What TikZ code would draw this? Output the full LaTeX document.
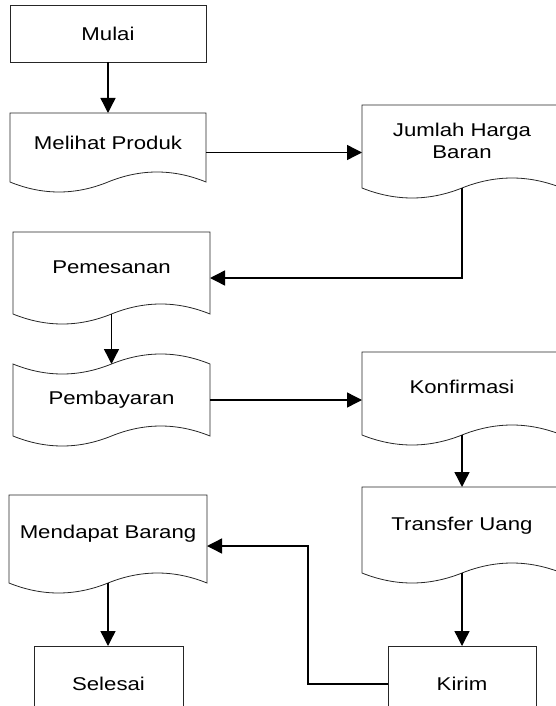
\documentclass[tikz,border=0pt]{standalone}
\usepackage{fontspec}
\setmainfont{Liberation Sans}[FakeStretch=1.2]
\usetikzlibrary{arrows.meta,calc}

\newcommand\docpath[1]{%
  \draw[outline] (#1.north west) -- (#1.north east) -- ($(#1.south east)+(0,-10)$)
    .. controls ($(#1.south east)!0.3333!(#1.south)+(0,-23.33)$) and ($(#1.south)!0.3333!(#1.south east)+(0,-23.33)$) .. ($(#1.south)+(0,-10)$)
    .. controls ($(#1.south)!0.3333!(#1.south west)+(0,3.33)$) and ($(#1.south west)!0.3333!(#1.south)+(0,3.33)$) .. ($(#1.south west)+(0,-10)$)
    -- cycle;}
\newcommand\tapepath[1]{%
  \draw[outline] ($(#1.north west)+(0,10)$)
    .. controls ($(#1.north west)!0.3333!(#1.north)+(0,23.33)$) and ($(#1.north)!0.3333!(#1.north west)+(0,23.33)$) .. ($(#1.north)+(0,10)$)
    .. controls ($(#1.north)!0.3333!(#1.north east)+(0,-3.33)$) and ($(#1.north east)!0.3333!(#1.north)+(0,-3.33)$) .. ($(#1.north east)+(0,10)$)
    -- ($(#1.south east)+(0,-10)$)
    .. controls ($(#1.south east)!0.3333!(#1.south)+(0,-23.33)$) and ($(#1.south)!0.3333!(#1.south east)+(0,-23.33)$) .. ($(#1.south)+(0,-10)$)
    .. controls ($(#1.south)!0.3333!(#1.south west)+(0,3.33)$) and ($(#1.south west)!0.3333!(#1.south)+(0,3.33)$) .. ($(#1.south west)+(0,-10)$)
    -- cycle;}

\begin{document}
\begin{tikzpicture}[x=1bp,y=-1bp,
  txt/.style={font=\fontsize{18.5bp}{22.5bp}\selectfont,align=center,inner sep=0pt},
  shapebox/.style={rectangle,inner sep=0pt,outer sep=0pt},
  rectnode/.style={shapebox,txt,draw=black!85,line width=0.8bp},
  outline/.style={draw=black!85,line width=0.8bp},
  conn/.style={draw=black,line width=1.4bp,-{Triangle[length=15bp,width=15bp]}}
]
\useasboundingbox (0,0) rectangle (556,706);
\clip (0,0) rectangle (556,706);

% nodes
\node[rectnode,minimum width=196bp,minimum height=57bp] (mulai) at (108,33.5) {Mulai};
\node[shapebox,minimum width=196bp,minimum height=79bp,
  label={[txt,name=melihatt,yshift=9.5bp]center:Melihat Produk}] (melihat) at (108,152.5) {};
\node[shapebox,minimum width=200bp,minimum height=93bp,
  label={[txt,name=jumlaht,yshift=10.5bp]center:Jumlah Harga\\Baran}] (jumlah) at (462,151.5) {};
\node[shapebox,minimum width=197bp,minimum height=92bp,
  label={[txt,name=pemesanant,yshift=11bp]center:Pemesanan}] (pemesanan) at (111.5,278) {};
\node[shapebox,minimum width=197bp,minimum height=92bp,
  label={[txt,name=pembayarant]center:Pembayaran}] (pembayaran) at (111.5,400) {};
\node[shapebox,minimum width=200bp,minimum height=93bp,
  label={[txt,name=konfirmasit,yshift=11.5bp]center:Konfirmasi}] (konfirmasi) at (462,398.5) {};
\node[shapebox,minimum width=200bp,minimum height=96bp,
  label={[txt,name=transfert,yshift=9bp]center:Transfer Uang}] (transfer) at (462,535) {};
\node[shapebox,minimum width=198bp,minimum height=98bp,
  label={[txt,name=mendapatt,yshift=10bp]center:Mendapat Barang}] (mendapat) at (108,544) {};
\node[rectnode,minimum width=149bp,minimum height=76bp] (selesai) at (108.5,684) {Selesai};
\node[rectnode,minimum width=148bp,minimum height=76bp] (kirim) at (462,684) {Kirim};

% outlines
\docpath{melihat}
\docpath{jumlah}
\docpath{pemesanan}
\tapepath{pembayaran}
\docpath{konfirmasi}
\docpath{transfer}
\docpath{mendapat}

% connectors
\coordinate (bend) at (308,546);
\draw[conn] (mulai.south) -- (melihat.north);
\draw[conn] (melihat.east) -- (melihat.east -| jumlah.west);
\draw[conn] ($(jumlah.south)+(0,-10)$) |- (pemesanan.east);
\draw[conn] ($(pemesanan.south)+(0,-10)$) -- ($(pembayaran.north)+(0,10)$);
\draw[conn] (pembayaran.east) -- (pembayaran.east -| konfirmasi.west);
\draw[conn] ($(konfirmasi.south)+(0,-10)$) -- (transfer.north);
\draw[conn] ($(transfer.south)+(0,-10)$) -- (kirim.north);
\draw[conn] (kirim.west) -| (bend) -- (bend -| mendapat.east);
\draw[conn] ($(mendapat.south)+(0,-10)$) -- (mendapat.south |- selesai.north);
\end{tikzpicture}
\end{document}
